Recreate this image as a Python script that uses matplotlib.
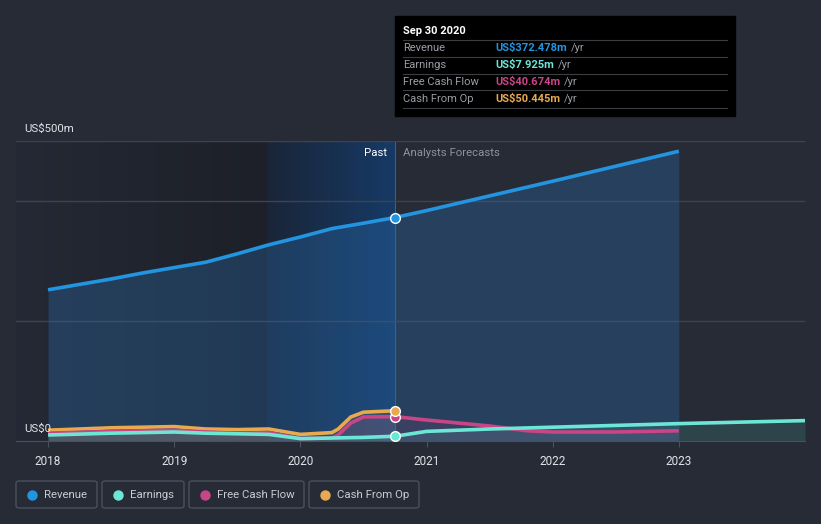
import numpy as np
import matplotlib.pyplot as plt
from matplotlib.patches import FancyBboxPatch, Rectangle
from matplotlib.lines import Line2D
from matplotlib.colors import LinearSegmentedColormap

plt.rcParams['font.family'] = ['Roboto', 'DejaVu Sans']

# values in US$ millions, x in fractional years
rev_x = [2018.0, 2018.25, 2018.5, 2018.75, 2019.0, 2019.25, 2019.5, 2019.75,
         2020.0, 2020.25, 2020.5, 2020.75, 2021.0, 2022.0, 2023.0]
rev_y = [252, 261, 270, 280, 289, 298, 312, 327, 340, 354, 363, 372.478, 384, 433, 483]

earn_x = [2018.0, 2018.5, 2019.0, 2019.25, 2019.5, 2019.75, 2020.0, 2020.25,
          2020.5, 2020.75, 2021.0, 2021.5, 2022.0, 2023.0, 2024.0]
earn_y = [10, 13, 15, 13, 12, 11, 4, 5, 6, 7.925, 16, 20, 23, 29, 34]

fcf_x = [2018.0, 2018.5, 2019.0, 2019.25, 2019.5, 2019.75, 2020.0, 2020.25,
         2020.3, 2020.4, 2020.5, 2020.75, 2021.0, 2021.5, 2021.8, 2022.0, 2022.5, 2023.0]
fcf_y = [13, 16, 18, 15, 13, 14, 4, 5, 10, 30, 40, 40.674, 35, 25, 17, 15, 15, 17]

cfo_x = [2018.0, 2018.5, 2019.0, 2019.25, 2019.5, 2019.75, 2020.0, 2020.25,
         2020.3, 2020.4, 2020.5, 2020.75]
cfo_y = [18, 22, 24, 20, 19, 20, 11, 14, 20, 40, 48, 50.445]

years = [2018, 2019, 2020, 2021, 2022, 2023]
names = ['Revenue', 'Earnings', 'Free Cash Flow', 'Cash From Op']
values = ['US$372.478m', 'US$7.925m', 'US$40.674m', 'US$50.445m']
colors = ['#2394df', '#6ce6d5', '#c84586', '#e8a94f']

bg = '#262b36'
W, H = 821, 524
fig = plt.figure(figsize=(8.21, 5.24), dpi=100, facecolor=bg)


def fx(px):
    return px / W


def fy(py):
    return 1 - py / H


ax = fig.add_axes([fx(16), fy(441), fx(805) - fx(16), fy(141) - fy(441)])
ax.set_facecolor(bg)

# background zones, horizontal gradients
grad = np.linspace(0, 1, 256).reshape(1, -1)
past_cm = LinearSegmentedColormap.from_list('p', ['#242935', '#1d2028'])
hl_cm = LinearSegmentedColormap.from_list('h', ['#1a2538', '#163a66'])
ax.imshow(grad, cmap=past_cm, extent=[2017.746, 2019.735, 0, 500], aspect='auto', zorder=0)
ax.imshow(grad, cmap=hl_cm, extent=[2019.735, 2020.75, 0, 500], aspect='auto', zorder=0)
ax.set_xlim(2017.746, 2024.0)
ax.set_ylim(0, 500)
ax.axvline(2020.75, color='#3a5f8a', lw=0.8, zorder=1)

for g in [200, 400, 500]:
    ax.axhline(g, color='#3d434f', lw=1, zorder=1)

# fills
ax.fill_between(rev_x, rev_y, 0, color='#2a6aa8', alpha=0.35, lw=0, zorder=2)
ax.fill_between(earn_x, earn_y, 0, color='#4fb8ad', alpha=0.18, lw=0, zorder=2)
ax.fill_between(fcf_x, fcf_y, 0, color='#c84586', alpha=0.12, lw=0, zorder=2)
ax.fill_between(cfo_x, cfo_y, 0, color='#e8a94f', alpha=0.1, lw=0, zorder=2)

series = [(rev_x, rev_y), (earn_x, earn_y), (fcf_x, fcf_y), (cfo_x, cfo_y)]
for (xs, ys), c in zip(series[::-1], colors[::-1]):
    ax.plot(xs, ys, color=c, lw=2.6, solid_capstyle='butt', zorder=4)

for (xs, ys), c in zip(series, colors):
    i = xs.index(2020.75)
    ax.plot(xs[i], ys[i], 'o', ms=7, mfc=c, mec='white', mew=1, zorder=6)

for s in ['top', 'right', 'left']:
    ax.spines[s].set_visible(False)
ax.spines['bottom'].set_color('#4a505c')
ax.set_yticks([])
ax.set_xticks(years)
ax.set_xticklabels([str(y) for y in years])
ax.tick_params(axis='x', colors='#4a505c', labelcolor='#e2e4e8', labelsize=8.5,
               length=4, pad=6)

# labels
fs = 8.2
fig.text(fx(24), fy(129), 'US$500m', color='#e2e4e8', fontsize=fs, va='center')
fig.text(fx(24), fy(429), 'US$0', color='#e2e4e8', fontsize=fs, va='center')
fig.text(fx(387), fy(153), 'Past', color='#ffffff', fontsize=fs, ha='right', va='center')
fig.text(fx(403), fy(153), 'Analysts Forecasts', color='#8d929b', fontsize=fs, va='center')

# tooltip box
fig.patches.append(Rectangle((fx(395), fy(116)), fx(735) - fx(395), fy(16) - fy(116),
                             transform=fig.transFigure, color='#000000', zorder=10))
fig.text(fx(403), fy(31), 'Sep 30 2020', color='white', fontsize=8,
         fontweight='bold', va='center', zorder=11)
for k, (n, v, c) in enumerate(zip(names, values, colors)):
    yy = 48 + 17 * k
    fig.add_artist(Line2D([fx(403), fx(727)], [fy(yy - 8.5)] * 2, color='#3a3d42',
                          lw=0.8, transform=fig.transFigure, zorder=11))
    fig.text(fx(403), fy(yy), n, color='#9a9ea6', fontsize=8, va='center', zorder=11)
    t = fig.text(fx(495), fy(yy), v, color=c, fontsize=8, fontweight='bold',
                 va='center', zorder=11)
    fig.canvas.draw()
    bb = t.get_window_extent()
    fig.text(bb.x1 / W + fx(4), fy(yy), '/yr', color='#9a9ea6', fontsize=8,
             va='center', zorder=11)
fig.add_artist(Line2D([fx(403), fx(727)], [fy(108)] * 2, color='#3a3d42',
                      lw=0.8, transform=fig.transFigure, zorder=11))

# legend boxes
boxes = [(16, 97), (102, 184), (189, 304), (309, 419)]
for (x0, x1), n, c in zip(boxes, names, colors):
    fig.patches.append(FancyBboxPatch((fx(x0), fy(508)), fx(x1) - fx(x0), fy(481) - fy(508),
                                      boxstyle='round,pad=0,rounding_size=0.004',
                                      transform=fig.transFigure, fc='none',
                                      ec='#4a505c', lw=1))
    fig.add_artist(Line2D([fx(x0 + 16)], [fy(494.5)], marker='o', ms=6.5, color=c,
                          transform=fig.transFigure))
    fig.text(fx(x0 + 28), fy(494.5), n, color='#c9ccd2', fontsize=fs, va='center')

fig.savefig('out.png', dpi=100, facecolor=bg)
